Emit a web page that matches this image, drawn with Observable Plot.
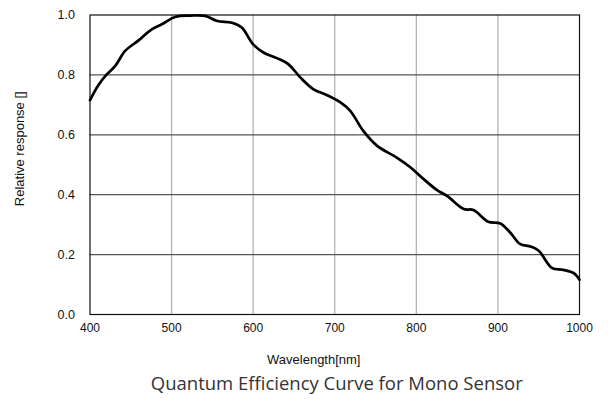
<!DOCTYPE html>
<html>
<head>
<meta charset="utf-8">
<script src="https://cdn.jsdelivr.net/npm/d3@7"></script>
<script src="https://cdn.jsdelivr.net/npm/@observablehq/plot@0.6"></script>
<style>
  html, body { margin: 0; padding: 0; background: #fff; }
</style>
</head>
<body>
<div id="chart"></div>
<script>
const wavelength = [400, 410, 420, 431, 443, 460, 474, 488, 505, 523, 541, 556, 574, 586, 600, 613, 629, 643, 658, 674, 690, 707, 719, 735, 752, 776, 793, 809, 825, 838, 858, 870, 888, 903, 915, 927, 940, 950, 966, 980, 993, 1000];
const response = [0.716, 0.765, 0.80, 0.83, 0.88, 0.916, 0.949, 0.969, 0.994, 0.998, 0.997, 0.98, 0.974, 0.958, 0.902, 0.874, 0.856, 0.836, 0.791, 0.752, 0.733, 0.708, 0.68, 0.613, 0.563, 0.524, 0.491, 0.452, 0.416, 0.395, 0.352, 0.349, 0.31, 0.304, 0.274, 0.236, 0.227, 0.213, 0.156, 0.149, 0.138, 0.116];
const xTicks = [400, 500, 600, 700, 800, 900, 1000];
const yTicks = [0.0, 0.2, 0.4, 0.6, 0.8, 1.0];
const xLabel = "Wavelength[nm]";
const yLabel = "Relative response []";
const title = "Quantum Efficiency Curve for Mono Sensor";

const data = wavelength.map((w, i) => ({w, r: response[i]}));

const chart = Plot.plot({
  width: 608,
  height: 401,
  marginLeft: 89.5,
  marginRight: 29,
  marginTop: 14.5,
  marginBottom: 87,
  style: {fontFamily: "'Liberation Sans', Arial, sans-serif", fontSize: "12px", background: "#fff"},
  x: {domain: [400, 1000], label: null},
  y: {domain: [0, 1], label: null},
  marks: [
    Plot.gridX(xTicks.slice(1, -1), {stroke: "#b4b4b4", strokeOpacity: 1, strokeWidth: 1.3}),
    Plot.gridY(yTicks.slice(1, -1), {stroke: "#555", strokeOpacity: 1, strokeWidth: 1.3}),
    Plot.frame({stroke: "#111", strokeWidth: 1.2}),
    Plot.axisX({ticks: xTicks, tickFormat: d => String(d), tickSize: 0, tickPadding: 9, label: null, fill: "#111", fontSize: 12}),
    Plot.axisY({ticks: yTicks, tickFormat: d => d.toFixed(1), tickSize: 0, tickPadding: 15, label: null, fill: "#111", fontSize: 12.5}),
    Plot.line(data, {x: "w", y: "r", stroke: "#000", strokeWidth: 2.7, curve: "catmull-rom"}),
    Plot.text([xLabel], {frameAnchor: "bottom", dx: -21, dy: 49, fontSize: 13, fill: "#111"}),
    Plot.text([yLabel], {frameAnchor: "left", textAnchor: "middle", lineAnchor: "middle", dx: -70.5, dy: -16, rotate: -90, fontSize: 13, fill: "#111"}),
    Plot.text([title], {frameAnchor: "bottom", dx: 2, dy: 75, fontSize: 18.5, fill: "#333", fontFamily: "'Open Sans', sans-serif"})
  ]
});
document.getElementById("chart").appendChild(chart);
</script>
</body>
</html>
